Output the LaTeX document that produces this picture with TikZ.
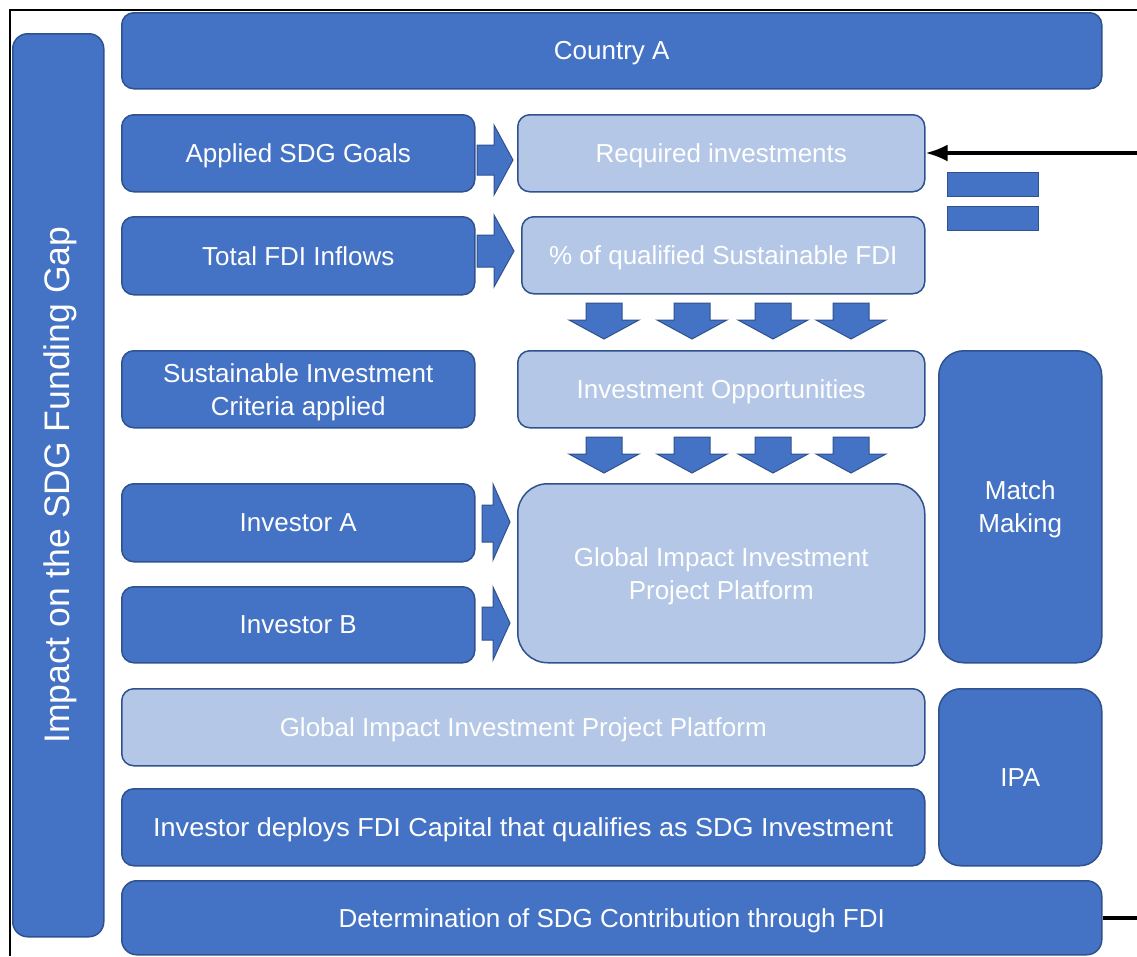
\documentclass[tikz,border=0pt]{standalone}
\usepackage{fontspec}
\usepackage{graphicx}
\setmainfont{Liberation Sans}
\usetikzlibrary{arrows.meta}
\definecolor{dk}{HTML}{4472C4}
\definecolor{bd}{HTML}{2F528F}
\definecolor{lt}{HTML}{B4C7E7}
\tikzset{
  dbox/.style={draw=bd, fill=dk, line width=1.5pt, rounded corners=12pt, text=white,
    align=center, anchor=north west, inner sep=0pt, text depth=0pt, font=\fontsize{26}{33}\selectfont},
  lbox/.style={dbox, fill=lt},
  barrow/.style={fill=dk, draw=bd, line width=1pt, line join=miter},
  eqbar/.style={fill=dk, draw=bd, line width=1pt, anchor=north west, inner sep=0pt},
  blackline/.style={line width=3.5pt, black},
  frameline/.style={line width=2.5pt, black},
  pics/darr/.style={code={\path[barrow] (-18,0) -- (18,0) -- (18,17) -- (35,17) -- (0,36) -- (-35,17) -- (-18,17) -- cycle;}}
}
\newcommand\bx[7]{\node[#2, minimum width={#5pt-#3pt}, minimum height={#6pt-#4pt}] (#1) at (#3,#4) {#7};}
\begin{document}
\begin{tikzpicture}[x=1pt,y=-1pt]
\useasboundingbox[fill=white] (0,0) rectangle (1137,956);
% frame
\coordinate (fbl) at (10,956);
\coordinate (ftl) at (10,10);
\coordinate (ftr) at (1137,10);
\draw[frameline] (fbl) -- (ftl) -- (ftr);
% left vertical
\bx{impact}{dbox, rounded corners=15pt}{12}{33}{103}{936}{}
\node[rotate=90, text=white, font=\fontsize{35.5}{40}\selectfont] (impacttxt) at ([xshift=2pt]impact.center) {Impact on the SDG Funding Gap};
% rows
\bx{country}{dbox}{121}{12}{1101}{88}{Country A}
\bx{applied}{dbox}{121}{114}{474}{191}{Applied SDG Goals}
\bx{required}{lbox}{517}{114}{924}{191}{Required investments}
\bx{total}{dbox}{121}{216}{474}{294}{Total FDI Inflows}
\bx{qualified}{lbox}{521}{216}{924}{293}{\% of qualified Sustainable FDI}
\bx{criteria}{dbox}{121}{350}{474}{427}{Sustainable Investment\\Criteria applied}
\bx{opps}{lbox}{517}{350}{924}{427}{Investment Opportunities}
\bx{match}{dbox, rounded corners=25pt}{938}{350}{1101}{662}{Match\\Making}
\bx{invA}{dbox}{121}{483}{474}{561}{Investor A}
\bx{invB}{dbox}{121}{586}{474}{662}{Investor B}
\bx{giipp}{lbox, rounded corners=30pt}{517}{483}{924}{662}{Global Impact Investment\\Project Platform}
\bx{giippw}{lbox}{121}{688}{924}{765}{Global Impact Investment Project Platform}
\bx{ipa}{dbox, rounded corners=22pt}{938}{688}{1101}{865}{IPA}
\bx{deploys}{dbox}{121}{788}{924}{865}{\resizebox{740pt}{\height}{Investor deploys FDI Capital that qualifies as SDG Investment}}
\bx{determ}{dbox, rounded corners=15pt}{121}{880}{1101}{954}{Determination of SDG Contribution through FDI}
% equals sign
\node[eqbar, minimum width=91pt, minimum height=24pt] (eq1) at (947,172) {};
\node[eqbar, minimum width=91pt, minimum height=24pt] (eq2) at (947,206) {};
% right block arrows
\path[barrow] (477,145) -- (494,145) -- (494,125) -- (513,160) -- (494,195) -- (494,175) -- (477,175) -- cycle;
\path[barrow] (477,235) -- (494,235) -- (494,215) -- (514,251) -- (494,287) -- (494,267) -- (477,267) -- cycle;
\path[barrow] (482,505) -- (493,505) -- (493,484) -- (510,522) -- (493,560) -- (493,542) -- (482,542) -- cycle;
\path[barrow] (482,607) -- (493,607) -- (493,587) -- (510,623) -- (493,660) -- (493,640) -- (482,640) -- cycle;
% down block arrows
\foreach \cx in {604,692,773,851} {
  \pic at (\cx,303) {darr};
  \pic at (\cx,437) {darr};
}
% connectors
\coordinate (inR) at (1137,153);
\draw[blackline, -{Latex[length=22pt,width=17pt]}] (inR) -- (required.east |- inR);
\coordinate (outR) at (1137,918);
\draw[blackline] (determ.east |- outR) -- (outR);
\end{tikzpicture}
\end{document}
